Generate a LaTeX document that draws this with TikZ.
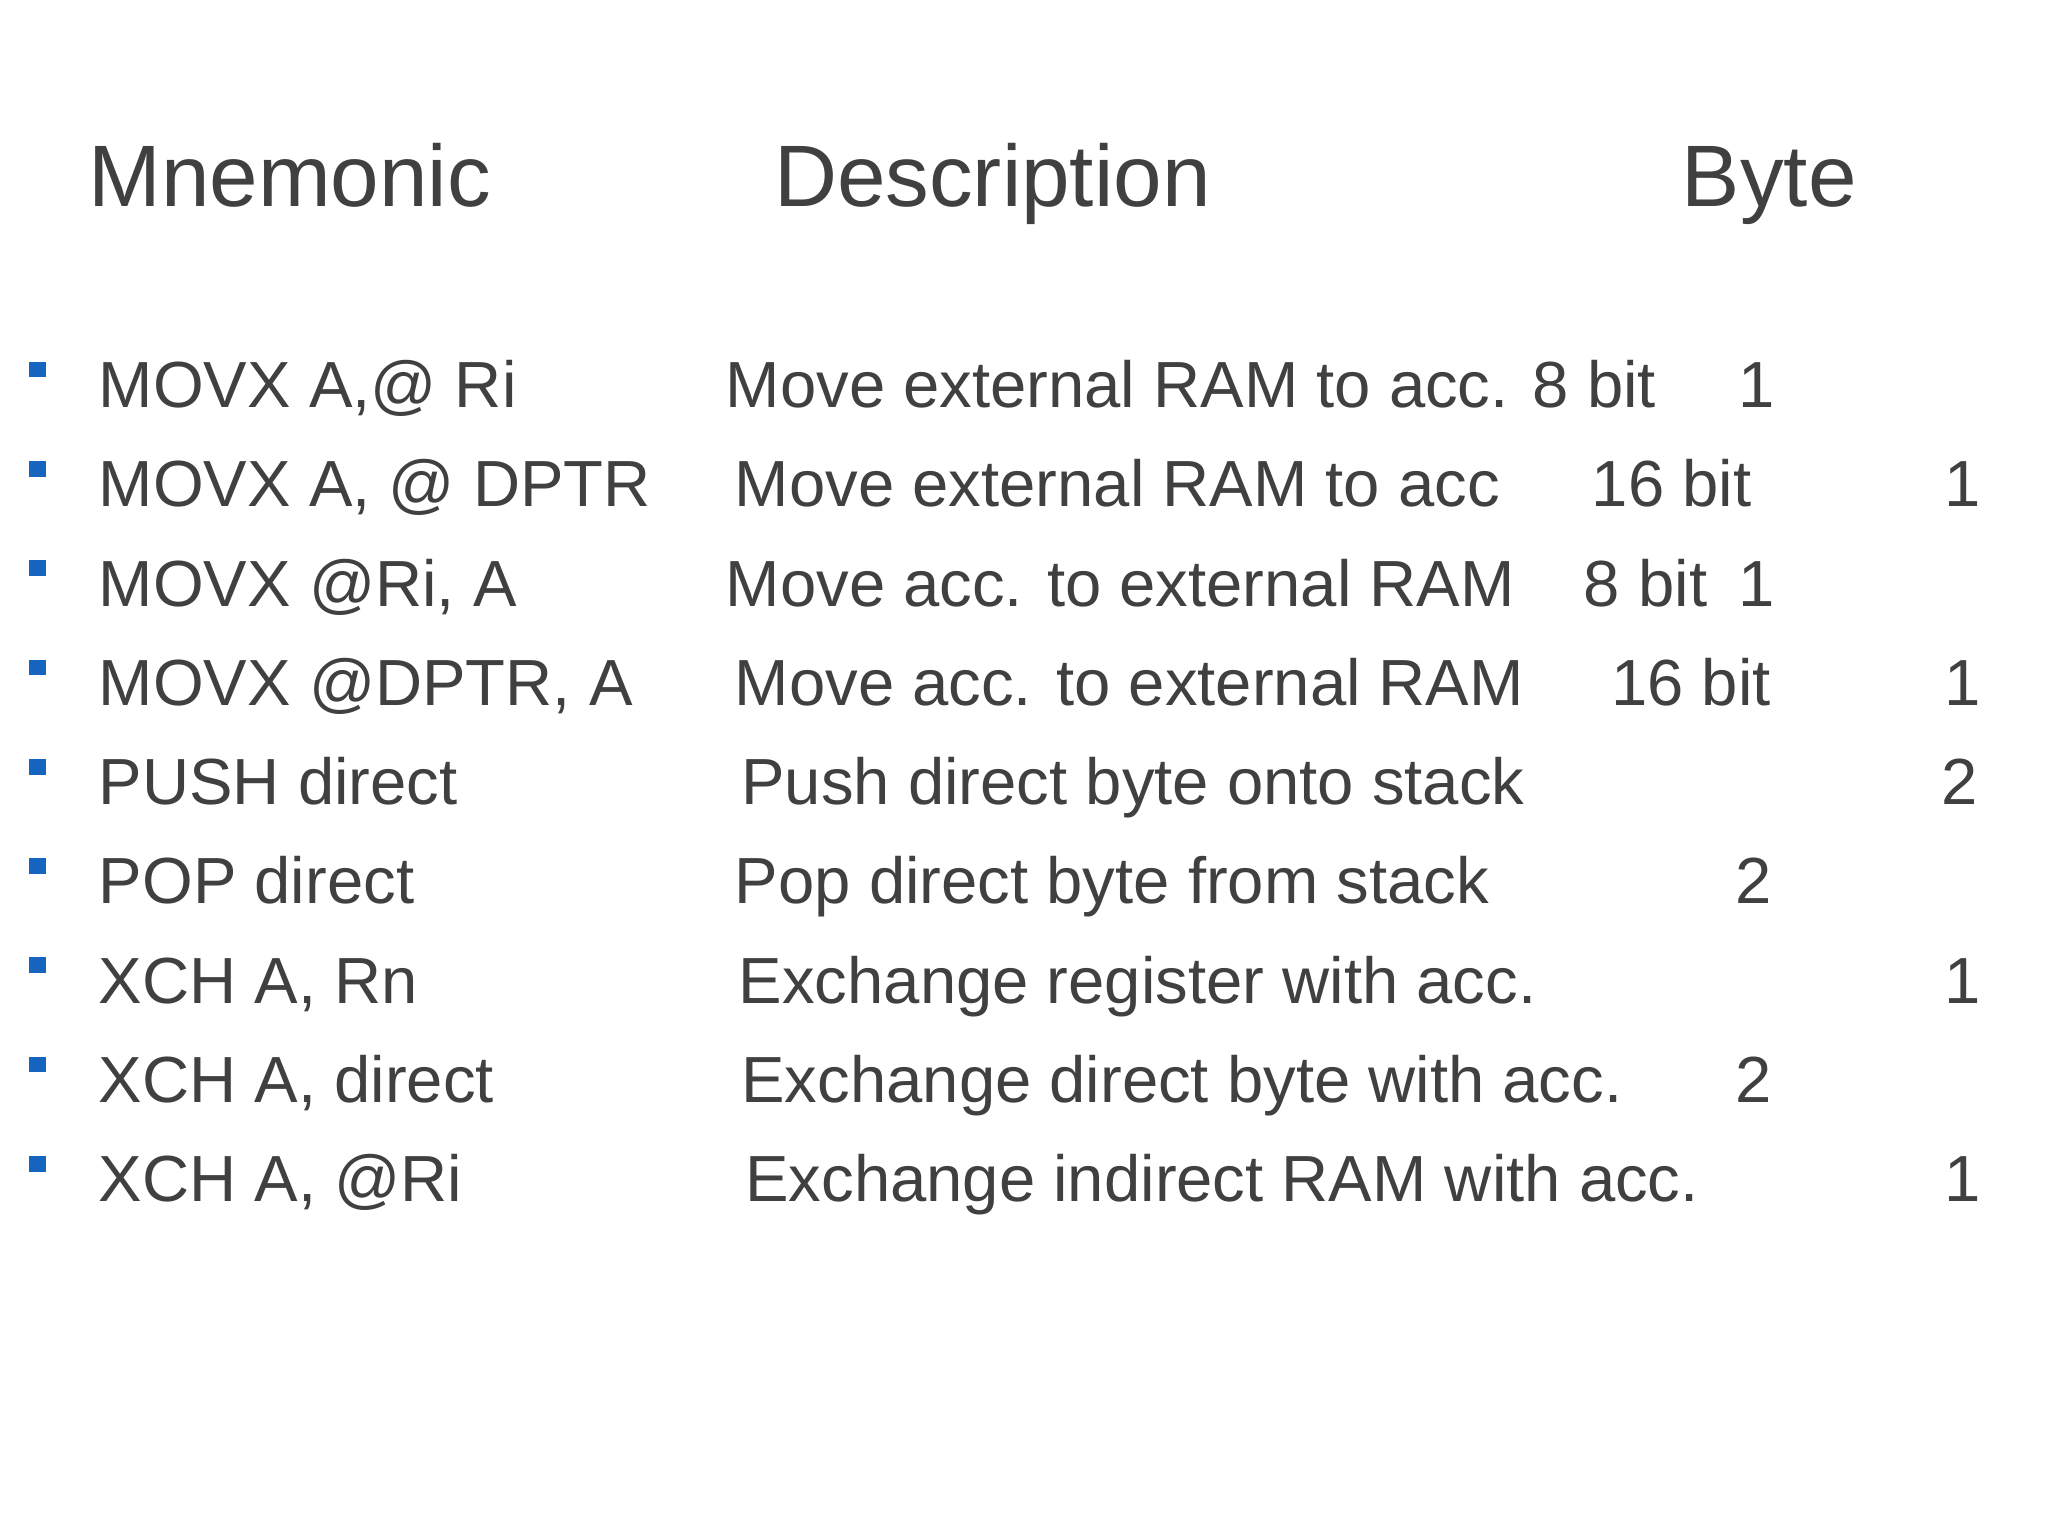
\documentclass[tikz,border=0pt]{standalone}
\usepackage{fontspec}
\setmainfont{Liberation Sans}
\definecolor{txt}{HTML}{404040}
\definecolor{bul}{HTML}{1565C0}
\begin{document}
\begin{tikzpicture}[x=0.01cm,y=-0.01cm,
  t/.style={anchor=base west,inner sep=0,text=txt,font=\fontsize{14.2pt}{16pt}\selectfont},
  h/.style={anchor=base west,inner sep=0,text=txt,font=\fontsize{19pt}{22pt}\selectfont},
  b/.style={fill=bul,draw=none}]
\useasboundingbox (0,0) rectangle (1568,1176);
\node[h] (h1) at (67,158) {Mnemonic};
\node[h] (h2) at (592,158) {Description};
\node[h] (h3) at (1287,158) {Byte};
\foreach \y in {312,388,464,540,616,692,768,844,920}
  \fill[b] (22,\y-35) rectangle (35,\y-23);
\node[t] (m1) at (75,312) {MOVX A,@ Ri};
\node[t] (d1) at (555,312) {Move external RAM to acc. 8 bit};
\node[t] (b1) at (1330,312) {1};
\node[t] (m2) at (75,388) {MOVX A, @ DPTR};
\node[t] (d2) at (562,388) {Move external RAM to acc};
\node[t] (e2) at (1218,388) {16 bit};
\node[t] (b2) at (1488,388) {1};
\node[t] (m3) at (75,464) {MOVX @Ri, A};
\node[t] (d3) at (555,464) {Move acc. to external RAM};
\node[t] (e3) at (1212,464) {8 bit};
\node[t] (b3) at (1330,464) {1};
\node[t] (m4) at (75,540) {MOVX @DPTR, A};
\node[t] (d4) at (562,540) {Move acc. to external RAM};
\node[t] (e4) at (1233,540) {16 bit};
\node[t] (b4) at (1488,540) {1};
\node[t] (m5) at (75,616) {PUSH direct};
\node[t] (d5) at (567,616) {Push direct byte onto stack};
\node[t] (b5) at (1486,616) {2};
\node[t] (m6) at (75,692) {POP direct};
\node[t] (d6) at (562,692) {Pop direct byte from stack};
\node[t] (b6) at (1328,692) {2};
\node[t] (m7) at (75,768) {XCH A, Rn};
\node[t] (d7) at (565,768) {Exchange register with acc.};
\node[t] (b7) at (1488,768) {1};
\node[t] (m8) at (75,844) {XCH A, direct};
\node[t] (d8) at (567,844) {Exchange direct byte with acc.};
\node[t] (b8) at (1328,844) {2};
\node[t] (m9) at (75,920) {XCH A, @Ri};
\node[t] (d9) at (570,920) {Exchange indirect RAM with acc.};
\node[t] (b9) at (1488,920) {1};
\end{tikzpicture}
\end{document}
